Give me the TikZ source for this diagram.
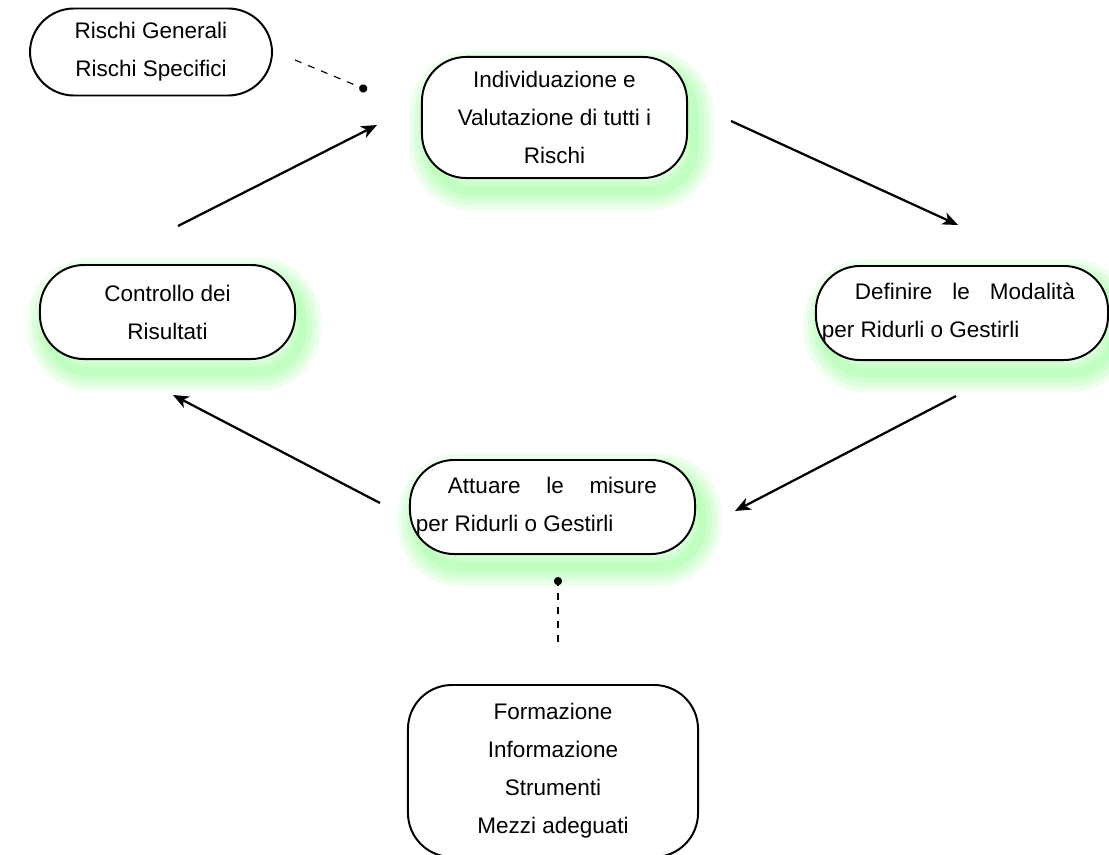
\documentclass[tikz,border=0pt]{standalone}
\usepackage{fontspec}
\setmainfont{Liberation Sans}
\usetikzlibrary{calc,positioning,arrows,arrows.meta}
\tikzset{
  riskbox/.style={draw, line width=1.4pt, rounded corners=1.1cm, fill=white,
    font=\fontsize{16}{27}\selectfont, inner sep=4pt},
  halo/.style={preaction={draw=green, opacity=0.065, line width=#1, transform canvas={xshift=5pt,yshift=-9pt}}},
  glowbox/.style={riskbox, halo=28pt, halo=21pt, halo=14pt, halo=7pt},
  flow/.style={-{Stealth[length=11pt,width=9pt,inset=3pt]}, line width=1.6pt},
  hint/.style={line width=0.8pt, dash pattern=on 5pt off 5pt},
}

\begin{document}
\begin{tikzpicture}[x=0.025cm,y=-0.025cm]
					\useasboundingbox (0,0) rectangle (1109,854);

					% the cycle
					\node[glowbox, minimum width=6.625cm, minimum height=3.025cm, align=center] (valuta) at (554.5,117.5) {Individuazione e\\Valutazione di tutti i\\Rischi};
					\node[glowbox, minimum width=7.3cm, minimum height=2.35cm, text width=7cm, align=justify] (modalita) at (962,313) {\noindent\hspace*{0.82cm}Definire le Modalità\hspace*{0.675cm}\linebreak per Ridurli o Gestirli};
					\node[glowbox, minimum width=7.125cm, minimum height=2.35cm, text width=6.825cm, align=justify] (attuare) at (552.5,507) {\noindent\hspace*{0.8cm}Attuare le misure\hspace*{0.8cm}\linebreak per Ridurli o Gestirli};
					\node[glowbox, minimum width=6.375cm, minimum height=2.35cm, align=center] (controllo) at (167.5,312) {Controllo dei\\Risultati};

					% side boxes
					\node[riskbox, minimum width=6.05cm, minimum height=2.175cm, align=center] (rischi) at (151,52) {Rischi Generali\\Rischi Specifici};
					\node[riskbox, minimum width=7.25cm, minimum height=4.3cm, align=center] (mezzi) at (553,771) {Formazione\\Informazione\\Strumenti\\Mezzi adeguati};

					\coordinate (valutaIn) at (377,125);
					\coordinate (valutaOut) at (731,121);
					\coordinate (modalitaIn) at (958,225);
					\coordinate (modalitaOut) at (956,396);
					\coordinate (attuareIn) at (735,511);
					\coordinate (attuareOut) at (380,503);
					\coordinate (controlloIn) at (173,395);
					\coordinate (controlloOut) at (178,226);
					\coordinate (rischiEnd) at (295,60);
					\coordinate (rischiDot) at (367,90);
					\coordinate (mezziDot) at (558,577);
					\coordinate (mezziEnd) at (558,647);

					% arrows round the cycle
					\draw[flow] (controlloOut) -- (valutaIn);
					\draw[flow] (valutaOut) -- (modalitaIn);
					\draw[flow] (modalitaOut) -- (attuareIn);
					\draw[flow] (attuareOut) -- (controlloIn);

					% dashed hints
					\draw[hint, -*] (rischiEnd) -- (rischiDot);
					\draw[hint, *-] (mezziDot) -- (mezziEnd);
				\end{tikzpicture}
\end{document}
